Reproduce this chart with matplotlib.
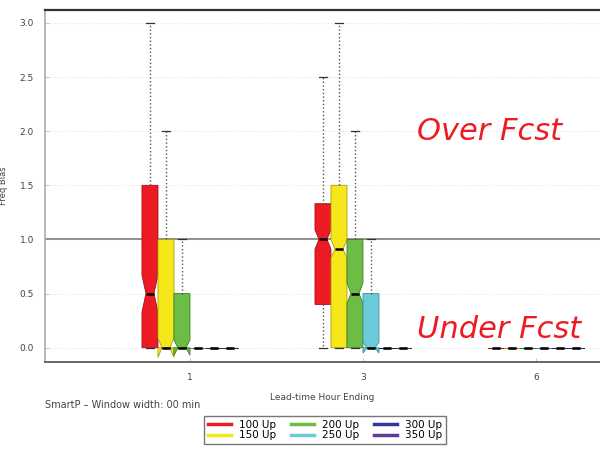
import matplotlib
matplotlib.use('Agg')
import matplotlib.pyplot as plt
from matplotlib.lines import Line2D

# lead-time groups and thresholds
lead_labels = ['1', '3', '6']
series = ['100 Up', '150 Up', '200 Up', '250 Up', '300 Up', '350 Up']
colors = ['#ed1c24', '#f5e71a', '#6bbd45', '#6ccbd9', '#2e3a97', '#5c3d99']
edges = ['#9e1217', '#a89c10', '#3f7e26', '#3b8f9c', '#1b2260', '#3a2563']

# per series, values for lead 1, 3, 6
whislo = [[0, 0, 0], [0, 0, 0], [0, 0, 0], [0, 0, 0], [0, 0, 0], [0, 0, 0]]
q1 = [[0, 0.4, 0], [0, 0, 0], [0, 0, 0], [0, 0, 0], [0, 0, 0], [0, 0, 0]]
med = [[0.5, 1.0, 0], [0, 0.91, 0], [0, 0.5, 0], [0, 0, 0], [0, 0, 0], [0, 0, 0]]
q3 = [[1.5, 1.33, 0], [1.0, 1.5, 0], [0.5, 1.0, 0], [0, 0.5, 0], [0, 0, 0], [0, 0, 0]]
whishi = [[3.0, 2.5, 0], [2.0, 3.0, 0], [1.0, 2.0, 0], [0, 1.0, 0], [0, 0, 0], [0, 0, 0]]
cilo = [[0.33, 0.91, 0], [-0.09, 0.83, 0], [-0.07, 0.41, 0], [0, -0.05, 0], [0, 0, 0], [0, 0, 0]]
cihi = [[0.67, 1.09, 0], [0.09, 1.0, 0], [0.07, 0.6, 0], [0, 0.05, 0], [0, 0, 0], [0, 0, 0]]

fig = plt.figure(figsize=(6, 4.5), dpi=100)
ax = fig.add_axes([0.075, 0.196, 0.925, 0.782])

width = 0.0925
for i, name in enumerate(series):
    stats = []
    for g in range(len(lead_labels)):
        stats.append(dict(whislo=whislo[i][g], q1=q1[i][g], med=med[i][g],
                          q3=q3[i][g], whishi=whishi[i][g],
                          cilo=cilo[i][g], cihi=cihi[i][g], fliers=[]))
    pos = [g + (i - 2.5) * width for g in range(len(lead_labels))]
    ax.bxp(stats, positions=pos, widths=width, shownotches=True,
           patch_artist=True, showfliers=False, manage_ticks=False,
           boxprops=dict(facecolor=colors[i], edgecolor=edges[i], linewidth=0.6),
           medianprops=dict(color='black', linewidth=1.8),
           whiskerprops=dict(color='#555555', linestyle=':', linewidth=1.0),
           capprops=dict(color='#333333', linewidth=0.9), capwidths=width * 0.45)

ax.axhline(1.0, color='#888888', lw=1.3, zorder=1.5)
ax.set_xlim(-0.838, 2.37)
ax.set_ylim(-0.13, 3.12)
ax.set_yticks([0.0, 0.5, 1.0, 1.5, 2.0, 2.5, 3.0])
ax.set_yticklabels(['0.0', '0.5', '1.0', '1.5', '2.0', '2.5', '3.0'])
ax.set_xticks(range(len(lead_labels)))
ax.set_xticklabels(lead_labels)
ax.grid(axis='y', color='#e4e4e4', linestyle=':', linewidth=0.8)
ax.set_axisbelow(True)
ax.tick_params(axis='both', labelsize=6.5, colors='#444444', length=3,
               direction='in', width=0.6, pad=8)
ax.tick_params(axis='y', colors='#bbbbbb', labelcolor='#444444')
ax.tick_params(axis='x', colors='#bbbbbb', labelcolor='#444444', pad=8)
ax.spines['right'].set_visible(False)
ax.spines['top'].set_color('#333333')
ax.spines['top'].set_linewidth(1.6)
ax.spines['left'].set_color('#aaaaaa')
ax.spines['left'].set_linewidth(1.2)
ax.spines['bottom'].set_color('#666666')
ax.spines['bottom'].set_linewidth(1.4)
ax.set_ylabel('Freq Bias', fontsize=6, color='#444444', labelpad=8)
ax.set_xlabel('Lead-time Hour Ending', fontsize=6.5, color='#444444', labelpad=8)

fig.text(45 / 600, 1 - 405 / 450, 'SmartP \u2013 Window width: 00 min',
         fontsize=7, color='#444444', va='center', ha='left')

fig.text(417 / 600, 1 - 132 / 450, 'Over Fcst', fontsize=22, style='italic',
         color='#ed1c24', va='center', ha='left')
fig.text(417 / 600, 1 - 330 / 450, 'Under Fcst', fontsize=22, style='italic',
         color='#ed1c24', va='center', ha='left')

handles = [Line2D([0], [0], color=c, lw=2.5) for c in colors]
fig.legend(handles, series, loc='center', bbox_to_anchor=(325 / 600, 1 - 430 / 450),
           ncol=3, fontsize=7.5, frameon=True, fancybox=False, edgecolor='#555555',
           handlelength=2.2, columnspacing=1.4, labelspacing=0.05,
           borderpad=0.4, handletextpad=0.8)

fig.savefig('out.png', dpi=100, facecolor='white')
